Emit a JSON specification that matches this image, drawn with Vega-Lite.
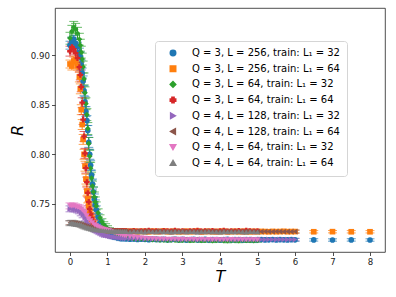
{
"$schema":"https://vega.github.io/schema/vega-lite/v6.json",
"width":330,"height":244,
"autosize":{"type":"none"},
"padding":{"left":55,"top":8,"right":11,"bottom":45},
"background":"white",
"config":{"view":{"stroke":"#222","strokeWidth":0.8},
"axis":{"grid":false,"domain":false,"labelFont":"DejaVu Sans","labelFontSize":8.6,"labelColor":"#222","tickColor":"#222","tickSize":3.5,"tickWidth":0.8,"titleFont":"DejaVu Sans","titleFontSize":16,"titleFontStyle":"italic","titleFontWeight":"normal","titleColor":"#000"},
"legend":{"labelFont":"DejaVu Sans","labelFontSize":10,"labelColor":"#000","orient":"none","legendX":100,"legendY":33,"strokeColor":"#d5d5d5","fillColor":"white","cornerRadius":3,"padding":7,"rowPadding":3.7,"symbolSize":30,"symbolOpacity":1,"symbolOffset":6,"labelOffset":14,"labelLimit":300}},
"datasets":{
"series":[
{"k":1,"label":"Q = 3, L = 256, train: L₁ = 32"},
{"k":2,"label":"Q = 3, L = 256, train: L₁ = 64"},
{"k":3,"label":"Q = 3, L = 64, train: L₁ = 32"},
{"k":4,"label":"Q = 3, L = 64, train: L₁ = 64"},
{"k":5,"label":"Q = 4, L = 128, train: L₁ = 32"},
{"k":6,"label":"Q = 4, L = 128, train: L₁ = 64"},
{"k":7,"label":"Q = 4, L = 64, train: L₁ = 32"},
{"k":8,"label":"Q = 4, L = 64, train: L₁ = 64"}],
"pts":[
{"k":1,"t":0,"r":0.910,"e":0.004},{"k":1,"t":0.05,"r":0.914,"e":0.004},{"k":1,"t":0.1,"r":0.916,"e":0.004},{"k":1,"t":0.15,"r":0.912,"e":0.004},{"k":1,"t":0.2,"r":0.909,"e":0.004},{"k":1,"t":0.25,"r":0.903,"e":0.004},{"k":1,"t":0.275,"r":0.898,"e":0.005},{"k":1,"t":0.3,"r":0.89,"e":0.005},{"k":1,"t":0.325,"r":0.882,"e":0.005},{"k":1,"t":0.35,"r":0.874,"e":0.005},{"k":1,"t":0.375,"r":0.864,"e":0.005},{"k":1,"t":0.4,"r":0.853,"e":0.005},{"k":1,"t":0.425,"r":0.843,"e":0.005},{"k":1,"t":0.45,"r":0.834,"e":0.005},{"k":1,"t":0.475,"r":0.824,"e":0.005},{"k":1,"t":0.5,"r":0.812,"e":0.005},{"k":1,"t":0.525,"r":0.8,"e":0.005},{"k":1,"t":0.55,"r":0.789,"e":0.005},{"k":1,"t":0.575,"r":0.779,"e":0.005},{"k":1,"t":0.6,"r":0.77,"e":0.005},{"k":1,"t":0.625,"r":0.762,"e":0.005},{"k":1,"t":0.65,"r":0.755,"e":0.005},{"k":1,"t":0.675,"r":0.749,"e":0.005},{"k":1,"t":0.7,"r":0.744,"e":0.004},{"k":1,"t":0.75,"r":0.737,"e":0.003},{"k":1,"t":0.8,"r":0.731,"e":0.003},{"k":1,"t":0.85,"r":0.727,"e":0.003},{"k":1,"t":0.9,"r":0.724,"e":0.002},{"k":1,"t":0.95,"r":0.722,"e":0.002},{"k":1,"t":1.0,"r":0.72,"e":0.002},{"k":1,"t":1.05,"r":0.719,"e":0.002},{"k":1,"t":1.1,"r":0.718,"e":0.002},{"k":1,"t":1.15,"r":0.717,"e":0.002},{"k":1,"t":1.2,"r":0.717,"e":0.002},{"k":1,"t":1.25,"r":0.716,"e":0.002},{"k":1,"t":1.3,"r":0.716,"e":0.002},{"k":1,"t":1.35,"r":0.715,"e":0.002},{"k":1,"t":1.4,"r":0.715,"e":0.002},{"k":1,"t":1.45,"r":0.715,"e":0.002},
{"k":1,"t":1.5,"r":0.7148,"e":0.0015},{"k":1,"t":1.6,"r":0.7144,"e":0.0015},{"k":1,"t":1.7,"r":0.7146,"e":0.0015},{"k":1,"t":1.8,"r":0.7141,"e":0.0015},{"k":1,"t":1.9,"r":0.7145,"e":0.0015},{"k":1,"t":2.0,"r":0.7143,"e":0.0015},{"k":1,"t":2.1,"r":0.7139,"e":0.0015},{"k":1,"t":2.2,"r":0.7144,"e":0.0015},{"k":1,"t":2.3,"r":0.7142,"e":0.0015},{"k":1,"t":2.4,"r":0.714,"e":0.0015},{"k":1,"t":2.5,"r":0.7143,"e":0.0015},{"k":1,"t":2.6,"r":0.7138,"e":0.0015},{"k":1,"t":2.7,"r":0.7141,"e":0.0015},{"k":1,"t":2.8,"r":0.7144,"e":0.0015},{"k":1,"t":2.9,"r":0.7139,"e":0.0015},{"k":1,"t":3.0,"r":0.7142,"e":0.0015},{"k":1,"t":3.1,"r":0.7137,"e":0.0015},{"k":1,"t":3.2,"r":0.7141,"e":0.0015},{"k":1,"t":3.3,"r":0.7143,"e":0.0015},{"k":1,"t":3.4,"r":0.7138,"e":0.0015},{"k":1,"t":3.5,"r":0.714,"e":0.0015},{"k":1,"t":3.6,"r":0.7142,"e":0.0015},{"k":1,"t":3.7,"r":0.7137,"e":0.0015},{"k":1,"t":3.8,"r":0.714,"e":0.0015},{"k":1,"t":3.9,"r":0.7141,"e":0.0015},{"k":1,"t":4.0,"r":0.7136,"e":0.0015},{"k":1,"t":4.1,"r":0.714,"e":0.0015},{"k":1,"t":4.2,"r":0.7142,"e":0.0015},{"k":1,"t":4.3,"r":0.7138,"e":0.0015},{"k":1,"t":4.4,"r":0.7139,"e":0.0015},{"k":1,"t":4.5,"r":0.7141,"e":0.0015},{"k":1,"t":4.6,"r":0.7137,"e":0.0015},{"k":1,"t":4.7,"r":0.7139,"e":0.0015},{"k":1,"t":4.8,"r":0.714,"e":0.0015},{"k":1,"t":4.9,"r":0.7136,"e":0.0015},{"k":1,"t":5.0,"r":0.7139,"e":0.0015},{"k":1,"t":5.1,"r":0.7141,"e":0.0015},{"k":1,"t":5.2,"r":0.7137,"e":0.0015},{"k":1,"t":5.3,"r":0.7138,"e":0.0015},{"k":1,"t":5.4,"r":0.714,"e":0.0015},{"k":1,"t":5.5,"r":0.7136,"e":0.0015},{"k":1,"t":5.6,"r":0.7139,"e":0.0015},{"k":1,"t":5.7,"r":0.7138,"e":0.0015},{"k":1,"t":5.8,"r":0.7137,"e":0.0015},{"k":1,"t":5.9,"r":0.7139,"e":0.0015},{"k":1,"t":6.0,"r":0.7138,"e":0.0015},{"k":1,"t":6.5,"r":0.7137,"e":0.0012},{"k":1,"t":7.0,"r":0.7136,"e":0.0012},{"k":1,"t":7.5,"r":0.7137,"e":0.0012},{"k":1,"t":8.0,"r":0.7136,"e":0.0012},
{"k":2,"t":0,"r":0.891,"e":0.004},{"k":2,"t":0.05,"r":0.889,"e":0.004},{"k":2,"t":0.1,"r":0.894,"e":0.004},{"k":2,"t":0.15,"r":0.895,"e":0.004},{"k":2,"t":0.2,"r":0.889,"e":0.004},{"k":2,"t":0.25,"r":0.878,"e":0.005},{"k":2,"t":0.275,"r":0.866,"e":0.005},{"k":2,"t":0.3,"r":0.845,"e":0.005},{"k":2,"t":0.325,"r":0.83,"e":0.005},{"k":2,"t":0.35,"r":0.815,"e":0.005},{"k":2,"t":0.375,"r":0.8,"e":0.005},{"k":2,"t":0.4,"r":0.788,"e":0.005},{"k":2,"t":0.425,"r":0.775,"e":0.005},{"k":2,"t":0.45,"r":0.763,"e":0.005},{"k":2,"t":0.475,"r":0.755,"e":0.004},{"k":2,"t":0.5,"r":0.748,"e":0.004},{"k":2,"t":0.525,"r":0.742,"e":0.004},{"k":2,"t":0.55,"r":0.738,"e":0.003},{"k":2,"t":0.575,"r":0.735,"e":0.003},{"k":2,"t":0.6,"r":0.732,"e":0.003},{"k":2,"t":0.625,"r":0.73,"e":0.003},{"k":2,"t":0.65,"r":0.728,"e":0.002},{"k":2,"t":0.675,"r":0.727,"e":0.002},{"k":2,"t":0.7,"r":0.726,"e":0.002},{"k":2,"t":0.75,"r":0.725,"e":0.002},{"k":2,"t":0.8,"r":0.724,"e":0.002},{"k":2,"t":0.85,"r":0.7235,"e":0.002},{"k":2,"t":0.9,"r":0.723,"e":0.002},{"k":2,"t":0.95,"r":0.7228,"e":0.002},{"k":2,"t":1.0,"r":0.7227,"e":0.0015},{"k":2,"t":1.05,"r":0.7226,"e":0.0015},{"k":2,"t":1.1,"r":0.7228,"e":0.0015},{"k":2,"t":1.15,"r":0.7225,"e":0.0015},{"k":2,"t":1.2,"r":0.7226,"e":0.0015},{"k":2,"t":1.25,"r":0.7224,"e":0.0015},{"k":2,"t":1.3,"r":0.7226,"e":0.0015},{"k":2,"t":1.35,"r":0.7225,"e":0.0015},{"k":2,"t":1.4,"r":0.7223,"e":0.0015},{"k":2,"t":1.45,"r":0.7225,"e":0.0015},
{"k":2,"t":1.5,"r":0.7224,"e":0.0015},{"k":2,"t":1.6,"r":0.7221,"e":0.0015},{"k":2,"t":1.7,"r":0.7225,"e":0.0015},{"k":2,"t":1.8,"r":0.722,"e":0.0015},{"k":2,"t":1.9,"r":0.7223,"e":0.0015},{"k":2,"t":2.0,"r":0.7222,"e":0.0015},{"k":2,"t":2.1,"r":0.7219,"e":0.0015},{"k":2,"t":2.2,"r":0.7224,"e":0.0015},{"k":2,"t":2.3,"r":0.7221,"e":0.0015},{"k":2,"t":2.4,"r":0.7222,"e":0.0015},{"k":2,"t":2.5,"r":0.7226,"e":0.0015},{"k":2,"t":2.6,"r":0.722,"e":0.0015},{"k":2,"t":2.7,"r":0.7222,"e":0.0015},{"k":2,"t":2.8,"r":0.7223,"e":0.0015},{"k":2,"t":2.9,"r":0.7219,"e":0.0015},{"k":2,"t":3.0,"r":0.7221,"e":0.0015},{"k":2,"t":3.1,"r":0.7224,"e":0.0015},{"k":2,"t":3.2,"r":0.722,"e":0.0015},{"k":2,"t":3.3,"r":0.7222,"e":0.0015},{"k":2,"t":3.4,"r":0.7225,"e":0.0015},{"k":2,"t":3.5,"r":0.7219,"e":0.0015},{"k":2,"t":3.6,"r":0.7221,"e":0.0015},{"k":2,"t":3.7,"r":0.7223,"e":0.0015},{"k":2,"t":3.8,"r":0.722,"e":0.0015},{"k":2,"t":3.9,"r":0.7222,"e":0.0015},{"k":2,"t":4.0,"r":0.7221,"e":0.0015},{"k":2,"t":4.1,"r":0.7224,"e":0.0015},{"k":2,"t":4.2,"r":0.7219,"e":0.0015},{"k":2,"t":4.3,"r":0.7221,"e":0.0015},{"k":2,"t":4.4,"r":0.7223,"e":0.0015},{"k":2,"t":4.5,"r":0.722,"e":0.0015},{"k":2,"t":4.6,"r":0.7222,"e":0.0015},{"k":2,"t":4.7,"r":0.7221,"e":0.0015},{"k":2,"t":4.8,"r":0.7219,"e":0.0015},{"k":2,"t":4.9,"r":0.7223,"e":0.0015},{"k":2,"t":5.0,"r":0.722,"e":0.0015},{"k":2,"t":5.1,"r":0.7222,"e":0.0015},{"k":2,"t":5.2,"r":0.7221,"e":0.0015},{"k":2,"t":5.3,"r":0.7219,"e":0.0015},{"k":2,"t":5.4,"r":0.7222,"e":0.0015},{"k":2,"t":5.5,"r":0.722,"e":0.0015},{"k":2,"t":5.6,"r":0.7221,"e":0.0015},{"k":2,"t":5.7,"r":0.7223,"e":0.0015},{"k":2,"t":5.8,"r":0.722,"e":0.0015},{"k":2,"t":5.9,"r":0.7221,"e":0.0015},{"k":2,"t":6.0,"r":0.7221,"e":0.0015},{"k":2,"t":6.5,"r":0.7219,"e":0.0012},{"k":2,"t":7.0,"r":0.722,"e":0.0012},{"k":2,"t":7.5,"r":0.7219,"e":0.0012},{"k":2,"t":8.0,"r":0.7219,"e":0.0012},
{"k":3,"t":0,"r":0.917,"e":0.006},{"k":3,"t":0.05,"r":0.924,"e":0.006},{"k":3,"t":0.1,"r":0.928,"e":0.006},{"k":3,"t":0.15,"r":0.926,"e":0.006},{"k":3,"t":0.2,"r":0.922,"e":0.006},{"k":3,"t":0.25,"r":0.916,"e":0.006},{"k":3,"t":0.275,"r":0.91,"e":0.006},{"k":3,"t":0.3,"r":0.903,"e":0.006},{"k":3,"t":0.325,"r":0.896,"e":0.006},{"k":3,"t":0.35,"r":0.888,"e":0.006},{"k":3,"t":0.375,"r":0.876,"e":0.006},{"k":3,"t":0.4,"r":0.862,"e":0.006},{"k":3,"t":0.425,"r":0.851,"e":0.006},{"k":3,"t":0.45,"r":0.84,"e":0.006},{"k":3,"t":0.475,"r":0.826,"e":0.006},{"k":3,"t":0.5,"r":0.811,"e":0.006},{"k":3,"t":0.525,"r":0.798,"e":0.006},{"k":3,"t":0.55,"r":0.786,"e":0.006},{"k":3,"t":0.575,"r":0.776,"e":0.006},{"k":3,"t":0.6,"r":0.768,"e":0.005},{"k":3,"t":0.625,"r":0.762,"e":0.005},{"k":3,"t":0.65,"r":0.757,"e":0.005},{"k":3,"t":0.675,"r":0.752,"e":0.005},{"k":3,"t":0.7,"r":0.748,"e":0.004},{"k":3,"t":0.75,"r":0.741,"e":0.004},{"k":3,"t":0.8,"r":0.736,"e":0.003},{"k":3,"t":0.85,"r":0.732,"e":0.003},{"k":3,"t":0.9,"r":0.729,"e":0.003},{"k":3,"t":0.95,"r":0.727,"e":0.003},{"k":3,"t":1.0,"r":0.725,"e":0.003},{"k":3,"t":1.05,"r":0.724,"e":0.002},{"k":3,"t":1.1,"r":0.723,"e":0.002},{"k":3,"t":1.15,"r":0.722,"e":0.002},{"k":3,"t":1.2,"r":0.721,"e":0.002},{"k":3,"t":1.25,"r":0.72,"e":0.002},{"k":3,"t":1.3,"r":0.719,"e":0.002},{"k":3,"t":1.35,"r":0.718,"e":0.002},{"k":3,"t":1.4,"r":0.717,"e":0.002},{"k":3,"t":1.45,"r":0.717,"e":0.002},
{"k":3,"t":1.5,"r":0.716,"e":0.002},{"k":3,"t":1.6,"r":0.7155,"e":0.002},{"k":3,"t":1.7,"r":0.7152,"e":0.002},{"k":3,"t":1.8,"r":0.7148,"e":0.002},{"k":3,"t":1.9,"r":0.715,"e":0.002},{"k":3,"t":2.0,"r":0.7144,"e":0.002},{"k":3,"t":2.1,"r":0.7146,"e":0.002},{"k":3,"t":2.2,"r":0.714,"e":0.002},{"k":3,"t":2.3,"r":0.7143,"e":0.002},{"k":3,"t":2.4,"r":0.7138,"e":0.002},{"k":3,"t":2.5,"r":0.7141,"e":0.002},{"k":3,"t":2.6,"r":0.7135,"e":0.002},{"k":3,"t":2.7,"r":0.7139,"e":0.002},{"k":3,"t":2.8,"r":0.7142,"e":0.002},{"k":3,"t":2.9,"r":0.7133,"e":0.002},{"k":3,"t":3.0,"r":0.7137,"e":0.002},{"k":3,"t":3.1,"r":0.714,"e":0.002},{"k":3,"t":3.2,"r":0.7132,"e":0.002},{"k":3,"t":3.3,"r":0.7136,"e":0.002},{"k":3,"t":3.4,"r":0.7139,"e":0.002},{"k":3,"t":3.5,"r":0.7131,"e":0.002},{"k":3,"t":3.6,"r":0.7135,"e":0.002},{"k":3,"t":3.7,"r":0.7138,"e":0.002},{"k":3,"t":3.8,"r":0.713,"e":0.002},{"k":3,"t":3.9,"r":0.7134,"e":0.002},{"k":3,"t":4.0,"r":0.7137,"e":0.002},{"k":3,"t":4.1,"r":0.7132,"e":0.002},{"k":3,"t":4.2,"r":0.7128,"e":0.002},{"k":3,"t":4.3,"r":0.7135,"e":0.002},{"k":3,"t":4.4,"r":0.7133,"e":0.002},{"k":3,"t":4.5,"r":0.7129,"e":0.002},{"k":3,"t":4.6,"r":0.7136,"e":0.002},{"k":3,"t":4.7,"r":0.7131,"e":0.002},{"k":3,"t":4.8,"r":0.7134,"e":0.002},{"k":3,"t":4.9,"r":0.713,"e":0.002},{"k":3,"t":5.0,"r":0.7133,"e":0.002},
{"k":4,"t":0,"r":0.904,"e":0.005},{"k":4,"t":0.05,"r":0.908,"e":0.005},{"k":4,"t":0.1,"r":0.906,"e":0.005},{"k":4,"t":0.15,"r":0.902,"e":0.005},{"k":4,"t":0.2,"r":0.897,"e":0.005},{"k":4,"t":0.25,"r":0.888,"e":0.005},{"k":4,"t":0.275,"r":0.88,"e":0.005},{"k":4,"t":0.3,"r":0.868,"e":0.005},{"k":4,"t":0.325,"r":0.852,"e":0.005},{"k":4,"t":0.35,"r":0.835,"e":0.005},{"k":4,"t":0.375,"r":0.818,"e":0.005},{"k":4,"t":0.4,"r":0.801,"e":0.005},{"k":4,"t":0.425,"r":0.786,"e":0.005},{"k":4,"t":0.45,"r":0.772,"e":0.005},{"k":4,"t":0.475,"r":0.761,"e":0.004},{"k":4,"t":0.5,"r":0.752,"e":0.004},{"k":4,"t":0.525,"r":0.745,"e":0.004},{"k":4,"t":0.55,"r":0.74,"e":0.003},{"k":4,"t":0.575,"r":0.736,"e":0.003},{"k":4,"t":0.6,"r":0.733,"e":0.003},{"k":4,"t":0.625,"r":0.731,"e":0.003},{"k":4,"t":0.65,"r":0.729,"e":0.002},{"k":4,"t":0.675,"r":0.728,"e":0.002},{"k":4,"t":0.7,"r":0.727,"e":0.002},{"k":4,"t":0.75,"r":0.7255,"e":0.002},{"k":4,"t":0.8,"r":0.7245,"e":0.002},{"k":4,"t":0.85,"r":0.724,"e":0.002},{"k":4,"t":0.9,"r":0.7235,"e":0.002},{"k":4,"t":0.95,"r":0.723,"e":0.002},{"k":4,"t":1.0,"r":0.7228,"e":0.0015},{"k":4,"t":1.05,"r":0.7227,"e":0.0015},{"k":4,"t":1.1,"r":0.7229,"e":0.0015},{"k":4,"t":1.15,"r":0.7226,"e":0.0015},{"k":4,"t":1.2,"r":0.7228,"e":0.0015},{"k":4,"t":1.25,"r":0.7225,"e":0.0015},{"k":4,"t":1.3,"r":0.7227,"e":0.0015},{"k":4,"t":1.35,"r":0.7226,"e":0.0015},{"k":4,"t":1.4,"r":0.7228,"e":0.0015},{"k":4,"t":1.45,"r":0.7225,"e":0.0015},
{"k":4,"t":1.5,"r":0.7226,"e":0.0015},{"k":4,"t":1.6,"r":0.7224,"e":0.0015},{"k":4,"t":1.7,"r":0.7229,"e":0.0015},{"k":4,"t":1.8,"r":0.7223,"e":0.0015},{"k":4,"t":1.9,"r":0.7227,"e":0.0015},{"k":4,"t":2.0,"r":0.7225,"e":0.0015},{"k":4,"t":2.1,"r":0.7231,"e":0.0015},{"k":4,"t":2.2,"r":0.7224,"e":0.0015},{"k":4,"t":2.3,"r":0.7226,"e":0.0015},{"k":4,"t":2.4,"r":0.7222,"e":0.0015},{"k":4,"t":2.5,"r":0.7228,"e":0.0015},{"k":4,"t":2.6,"r":0.7225,"e":0.0015},{"k":4,"t":2.7,"r":0.7223,"e":0.0015},{"k":4,"t":2.8,"r":0.723,"e":0.0015},{"k":4,"t":2.9,"r":0.7224,"e":0.0015},{"k":4,"t":3.0,"r":0.7226,"e":0.0015},{"k":4,"t":3.1,"r":0.7222,"e":0.0015},{"k":4,"t":3.2,"r":0.7227,"e":0.0015},{"k":4,"t":3.3,"r":0.7225,"e":0.0015},{"k":4,"t":3.4,"r":0.7232,"e":0.0015},{"k":4,"t":3.5,"r":0.7223,"e":0.0015},{"k":4,"t":3.6,"r":0.7226,"e":0.0015},{"k":4,"t":3.7,"r":0.7224,"e":0.0015},{"k":4,"t":3.8,"r":0.7228,"e":0.0015},{"k":4,"t":3.9,"r":0.7222,"e":0.0015},{"k":4,"t":4.0,"r":0.7225,"e":0.0015},{"k":4,"t":4.1,"r":0.723,"e":0.0015},{"k":4,"t":4.2,"r":0.7223,"e":0.0015},{"k":4,"t":4.3,"r":0.7226,"e":0.0015},{"k":4,"t":4.4,"r":0.7224,"e":0.0015},{"k":4,"t":4.5,"r":0.7228,"e":0.0015},{"k":4,"t":4.6,"r":0.7222,"e":0.0015},{"k":4,"t":4.7,"r":0.7231,"e":0.0015},{"k":4,"t":4.8,"r":0.7225,"e":0.0015},{"k":4,"t":4.9,"r":0.7223,"e":0.0015},{"k":4,"t":5.0,"r":0.7227,"e":0.0015},
{"k":5,"t":0,"r":0.745,"e":0.003},{"k":5,"t":0.05,"r":0.746,"e":0.003},{"k":5,"t":0.1,"r":0.745,"e":0.003},{"k":5,"t":0.15,"r":0.745,"e":0.003},{"k":5,"t":0.2,"r":0.744,"e":0.003},{"k":5,"t":0.25,"r":0.743,"e":0.003},{"k":5,"t":0.3,"r":0.741,"e":0.003},{"k":5,"t":0.35,"r":0.739,"e":0.003},{"k":5,"t":0.4,"r":0.736,"e":0.003},{"k":5,"t":0.45,"r":0.733,"e":0.003},{"k":5,"t":0.5,"r":0.73,"e":0.002},{"k":5,"t":0.55,"r":0.728,"e":0.002},{"k":5,"t":0.6,"r":0.726,"e":0.002},{"k":5,"t":0.65,"r":0.724,"e":0.002},{"k":5,"t":0.7,"r":0.723,"e":0.002},{"k":5,"t":0.75,"r":0.722,"e":0.002},{"k":5,"t":0.8,"r":0.721,"e":0.002},{"k":5,"t":0.85,"r":0.72,"e":0.002},{"k":5,"t":0.9,"r":0.719,"e":0.002},{"k":5,"t":0.95,"r":0.7185,"e":0.002},{"k":5,"t":1.0,"r":0.718,"e":0.0015},{"k":5,"t":1.05,"r":0.7175,"e":0.0015},{"k":5,"t":1.1,"r":0.717,"e":0.0015},{"k":5,"t":1.15,"r":0.7167,"e":0.0015},{"k":5,"t":1.2,"r":0.7164,"e":0.0015},{"k":5,"t":1.25,"r":0.7161,"e":0.0015},{"k":5,"t":1.3,"r":0.7159,"e":0.0015},{"k":5,"t":1.35,"r":0.7157,"e":0.0015},{"k":5,"t":1.4,"r":0.7155,"e":0.0015},{"k":5,"t":1.45,"r":0.7154,"e":0.0015},
{"k":5,"t":1.5,"r":0.7152,"e":0.0012},{"k":5,"t":1.6,"r":0.715,"e":0.0012},{"k":5,"t":1.7,"r":0.7151,"e":0.0012},{"k":5,"t":1.8,"r":0.7148,"e":0.0012},{"k":5,"t":1.9,"r":0.715,"e":0.0012},{"k":5,"t":2.0,"r":0.7147,"e":0.0012},{"k":5,"t":2.1,"r":0.7149,"e":0.0012},{"k":5,"t":2.2,"r":0.7146,"e":0.0012},{"k":5,"t":2.3,"r":0.7148,"e":0.0012},{"k":5,"t":2.4,"r":0.7145,"e":0.0012},{"k":5,"t":2.5,"r":0.7147,"e":0.0012},{"k":5,"t":2.6,"r":0.7146,"e":0.0012},{"k":5,"t":2.7,"r":0.7144,"e":0.0012},{"k":5,"t":2.8,"r":0.7147,"e":0.0012},{"k":5,"t":2.9,"r":0.7145,"e":0.0012},{"k":5,"t":3.0,"r":0.7143,"e":0.0012},{"k":5,"t":3.1,"r":0.7146,"e":0.0012},{"k":5,"t":3.2,"r":0.7144,"e":0.0012},{"k":5,"t":3.3,"r":0.7145,"e":0.0012},{"k":5,"t":3.4,"r":0.7142,"e":0.0012},{"k":5,"t":3.5,"r":0.7145,"e":0.0012},{"k":5,"t":3.6,"r":0.7143,"e":0.0012},{"k":5,"t":3.7,"r":0.7144,"e":0.0012},{"k":5,"t":3.8,"r":0.7142,"e":0.0012},{"k":5,"t":3.9,"r":0.7144,"e":0.0012},{"k":5,"t":4.0,"r":0.7143,"e":0.0012},{"k":5,"t":4.1,"r":0.7141,"e":0.0012},{"k":5,"t":4.2,"r":0.7144,"e":0.0012},{"k":5,"t":4.3,"r":0.7142,"e":0.0012},{"k":5,"t":4.4,"r":0.7143,"e":0.0012},{"k":5,"t":4.5,"r":0.7141,"e":0.0012},{"k":5,"t":4.6,"r":0.7143,"e":0.0012},{"k":5,"t":4.7,"r":0.7142,"e":0.0012},{"k":5,"t":4.8,"r":0.714,"e":0.0012},{"k":5,"t":4.9,"r":0.7143,"e":0.0012},{"k":5,"t":5.0,"r":0.7141,"e":0.0012},{"k":5,"t":5.1,"r":0.7142,"e":0.0012},{"k":5,"t":5.2,"r":0.714,"e":0.0012},{"k":5,"t":5.3,"r":0.7142,"e":0.0012},{"k":5,"t":5.4,"r":0.7141,"e":0.0012},{"k":5,"t":5.5,"r":0.714,"e":0.0012},{"k":5,"t":5.6,"r":0.7142,"e":0.0012},{"k":5,"t":5.7,"r":0.7141,"e":0.0012},{"k":5,"t":5.8,"r":0.714,"e":0.0012},{"k":5,"t":5.9,"r":0.7141,"e":0.0012},{"k":5,"t":6.0,"r":0.714,"e":0.0012},
{"k":6,"t":0,"r":0.731,"e":0.002},{"k":6,"t":0.05,"r":0.731,"e":0.002},{"k":6,"t":0.1,"r":0.7305,"e":0.002},{"k":6,"t":0.15,"r":0.7305,"e":0.002},{"k":6,"t":0.2,"r":0.73,"e":0.002},{"k":6,"t":0.25,"r":0.7295,"e":0.002},{"k":6,"t":0.3,"r":0.729,"e":0.002},{"k":6,"t":0.35,"r":0.7285,"e":0.002},{"k":6,"t":0.4,"r":0.728,"e":0.002},{"k":6,"t":0.45,"r":0.7275,"e":0.002},{"k":6,"t":0.5,"r":0.727,"e":0.002},{"k":6,"t":0.55,"r":0.7265,"e":0.002},{"k":6,"t":0.6,"r":0.726,"e":0.002},{"k":6,"t":0.65,"r":0.7255,"e":0.002},{"k":6,"t":0.7,"r":0.725,"e":0.002},{"k":6,"t":0.75,"r":0.7248,"e":0.002},{"k":6,"t":0.8,"r":0.7245,"e":0.0015},{"k":6,"t":0.85,"r":0.7242,"e":0.0015},{"k":6,"t":0.9,"r":0.724,"e":0.0015},{"k":6,"t":0.95,"r":0.7238,"e":0.0015},{"k":6,"t":1.0,"r":0.7236,"e":0.0015},{"k":6,"t":1.05,"r":0.7234,"e":0.0015},{"k":6,"t":1.1,"r":0.7233,"e":0.0015},{"k":6,"t":1.15,"r":0.7231,"e":0.0015},{"k":6,"t":1.2,"r":0.723,"e":0.0015},{"k":6,"t":1.25,"r":0.7229,"e":0.0015},{"k":6,"t":1.3,"r":0.7229,"e":0.0015},{"k":6,"t":1.35,"r":0.7228,"e":0.0015},{"k":6,"t":1.4,"r":0.7227,"e":0.0015},{"k":6,"t":1.45,"r":0.7227,"e":0.0015},
{"k":6,"t":1.5,"r":0.7226,"e":0.0015},{"k":6,"t":1.6,"r":0.7225,"e":0.0015},{"k":6,"t":1.7,"r":0.7224,"e":0.0015},{"k":6,"t":1.8,"r":0.7226,"e":0.0015},{"k":6,"t":1.9,"r":0.7223,"e":0.0015},{"k":6,"t":2.0,"r":0.7225,"e":0.0015},{"k":6,"t":2.1,"r":0.7224,"e":0.0015},{"k":6,"t":2.2,"r":0.7222,"e":0.0015},{"k":6,"t":2.3,"r":0.7225,"e":0.0015},{"k":6,"t":2.4,"r":0.7223,"e":0.0015},{"k":6,"t":2.5,"r":0.7224,"e":0.0015},{"k":6,"t":2.6,"r":0.7222,"e":0.0015},{"k":6,"t":2.7,"r":0.7224,"e":0.0015},{"k":6,"t":2.8,"r":0.7223,"e":0.0015},{"k":6,"t":2.9,"r":0.7221,"e":0.0015},{"k":6,"t":3.0,"r":0.7224,"e":0.0015},{"k":6,"t":3.1,"r":0.7222,"e":0.0015},{"k":6,"t":3.2,"r":0.7223,"e":0.0015},{"k":6,"t":3.3,"r":0.7221,"e":0.0015},{"k":6,"t":3.4,"r":0.7223,"e":0.0015},{"k":6,"t":3.5,"r":0.7222,"e":0.0015},{"k":6,"t":3.6,"r":0.7224,"e":0.0015},{"k":6,"t":3.7,"r":0.7221,"e":0.0015},{"k":6,"t":3.8,"r":0.7223,"e":0.0015},{"k":6,"t":3.9,"r":0.7222,"e":0.0015},{"k":6,"t":4.0,"r":0.722,"e":0.0015},{"k":6,"t":4.1,"r":0.7223,"e":0.0015},{"k":6,"t":4.2,"r":0.7221,"e":0.0015},{"k":6,"t":4.3,"r":0.7222,"e":0.0015},{"k":6,"t":4.4,"r":0.722,"e":0.0015},{"k":6,"t":4.5,"r":0.7222,"e":0.0015},{"k":6,"t":4.6,"r":0.7221,"e":0.0015},{"k":6,"t":4.7,"r":0.7223,"e":0.0015},{"k":6,"t":4.8,"r":0.722,"e":0.0015},{"k":6,"t":4.9,"r":0.7222,"e":0.0015},{"k":6,"t":5.0,"r":0.7221,"e":0.0015},{"k":6,"t":5.1,"r":0.722,"e":0.0015},{"k":6,"t":5.2,"r":0.7222,"e":0.0015},{"k":6,"t":5.3,"r":0.7221,"e":0.0015},{"k":6,"t":5.4,"r":0.722,"e":0.0015},{"k":6,"t":5.5,"r":0.7222,"e":0.0015},{"k":6,"t":5.6,"r":0.7221,"e":0.0015},{"k":6,"t":5.7,"r":0.722,"e":0.0015},{"k":6,"t":5.8,"r":0.7221,"e":0.0015},{"k":6,"t":5.9,"r":0.722,"e":0.0015},{"k":6,"t":6.0,"r":0.7221,"e":0.0015},
{"k":7,"t":0,"r":0.748,"e":0.003},{"k":7,"t":0.05,"r":0.7475,"e":0.003},{"k":7,"t":0.1,"r":0.748,"e":0.003},{"k":7,"t":0.15,"r":0.747,"e":0.003},{"k":7,"t":0.2,"r":0.7465,"e":0.003},{"k":7,"t":0.25,"r":0.746,"e":0.003},{"k":7,"t":0.3,"r":0.745,"e":0.003},{"k":7,"t":0.35,"r":0.743,"e":0.003},{"k":7,"t":0.4,"r":0.741,"e":0.003},{"k":7,"t":0.45,"r":0.738,"e":0.003},{"k":7,"t":0.5,"r":0.735,"e":0.003},{"k":7,"t":0.55,"r":0.733,"e":0.0025},{"k":7,"t":0.6,"r":0.731,"e":0.0025},{"k":7,"t":0.65,"r":0.729,"e":0.0025},{"k":7,"t":0.7,"r":0.728,"e":0.0025},{"k":7,"t":0.75,"r":0.727,"e":0.002},{"k":7,"t":0.8,"r":0.726,"e":0.002},{"k":7,"t":0.85,"r":0.725,"e":0.002},{"k":7,"t":0.9,"r":0.7245,"e":0.002},{"k":7,"t":0.95,"r":0.724,"e":0.002},{"k":7,"t":1.0,"r":0.7235,"e":0.002},{"k":7,"t":1.05,"r":0.723,"e":0.002},{"k":7,"t":1.1,"r":0.722,"e":0.002},{"k":7,"t":1.15,"r":0.7212,"e":0.002},{"k":7,"t":1.2,"r":0.7205,"e":0.002},{"k":7,"t":1.25,"r":0.72,"e":0.002},{"k":7,"t":1.3,"r":0.7195,"e":0.002},{"k":7,"t":1.35,"r":0.719,"e":0.002},{"k":7,"t":1.4,"r":0.7185,"e":0.002},{"k":7,"t":1.45,"r":0.718,"e":0.002},
{"k":7,"t":1.5,"r":0.7178,"e":0.0015},{"k":7,"t":1.6,"r":0.7172,"e":0.0015},{"k":7,"t":1.7,"r":0.7166,"e":0.0015},{"k":7,"t":1.8,"r":0.7161,"e":0.0015},{"k":7,"t":1.9,"r":0.7157,"e":0.0015},{"k":7,"t":2.0,"r":0.7153,"e":0.0015},{"k":7,"t":2.1,"r":0.715,"e":0.0015},{"k":7,"t":2.2,"r":0.7148,"e":0.0015},{"k":7,"t":2.3,"r":0.7146,"e":0.0015},{"k":7,"t":2.4,"r":0.7145,"e":0.0015},{"k":7,"t":2.5,"r":0.7143,"e":0.0015},{"k":7,"t":2.6,"r":0.7145,"e":0.0015},{"k":7,"t":2.7,"r":0.7142,"e":0.0015},{"k":7,"t":2.8,"r":0.7144,"e":0.0015},{"k":7,"t":2.9,"r":0.7141,"e":0.0015},{"k":7,"t":3.0,"r":0.7143,"e":0.0015},{"k":7,"t":3.1,"r":0.714,"e":0.0015},{"k":7,"t":3.2,"r":0.7142,"e":0.0015},{"k":7,"t":3.3,"r":0.7141,"e":0.0015},{"k":7,"t":3.4,"r":0.7139,"e":0.0015},{"k":7,"t":3.5,"r":0.7142,"e":0.0015},{"k":7,"t":3.6,"r":0.714,"e":0.0015},{"k":7,"t":3.7,"r":0.7141,"e":0.0015},{"k":7,"t":3.8,"r":0.7139,"e":0.0015},{"k":7,"t":3.9,"r":0.7141,"e":0.0015},{"k":7,"t":4.0,"r":0.7138,"e":0.0015},{"k":7,"t":4.1,"r":0.714,"e":0.0015},{"k":7,"t":4.2,"r":0.7139,"e":0.0015},{"k":7,"t":4.3,"r":0.7141,"e":0.0015},{"k":7,"t":4.4,"r":0.7138,"e":0.0015},{"k":7,"t":4.5,"r":0.714,"e":0.0015},{"k":7,"t":4.6,"r":0.7139,"e":0.0015},{"k":7,"t":4.7,"r":0.7138,"e":0.0015},{"k":7,"t":4.8,"r":0.714,"e":0.0015},{"k":7,"t":4.9,"r":0.7139,"e":0.0015},{"k":7,"t":5.0,"r":0.7138,"e":0.0015},
{"k":8,"t":0,"r":0.7305,"e":0.0025},{"k":8,"t":0.05,"r":0.731,"e":0.0025},{"k":8,"t":0.1,"r":0.7305,"e":0.0025},{"k":8,"t":0.15,"r":0.73,"e":0.0025},{"k":8,"t":0.2,"r":0.7298,"e":0.0025},{"k":8,"t":0.25,"r":0.7295,"e":0.0025},{"k":8,"t":0.3,"r":0.729,"e":0.0025},{"k":8,"t":0.35,"r":0.728,"e":0.0025},{"k":8,"t":0.4,"r":0.7272,"e":0.0025},{"k":8,"t":0.45,"r":0.7265,"e":0.0025},{"k":8,"t":0.5,"r":0.726,"e":0.0025},{"k":8,"t":0.55,"r":0.7255,"e":0.0025},{"k":8,"t":0.6,"r":0.725,"e":0.0025},{"k":8,"t":0.65,"r":0.7245,"e":0.0025},{"k":8,"t":0.7,"r":0.724,"e":0.0025},{"k":8,"t":0.75,"r":0.7238,"e":0.002},{"k":8,"t":0.8,"r":0.7235,"e":0.002},{"k":8,"t":0.85,"r":0.7232,"e":0.002},{"k":8,"t":0.9,"r":0.723,"e":0.002},{"k":8,"t":0.95,"r":0.7228,"e":0.002},{"k":8,"t":1.0,"r":0.7227,"e":0.002},{"k":8,"t":1.05,"r":0.7224,"e":0.002},{"k":8,"t":1.1,"r":0.7226,"e":0.002},{"k":8,"t":1.15,"r":0.7223,"e":0.002},{"k":8,"t":1.2,"r":0.7225,"e":0.002},{"k":8,"t":1.25,"r":0.7222,"e":0.002},{"k":8,"t":1.3,"r":0.7224,"e":0.002},{"k":8,"t":1.35,"r":0.7221,"e":0.002},{"k":8,"t":1.4,"r":0.7223,"e":0.002},{"k":8,"t":1.45,"r":0.7222,"e":0.002},
{"k":8,"t":1.5,"r":0.7222,"e":0.002},{"k":8,"t":1.6,"r":0.7218,"e":0.002},{"k":8,"t":1.7,"r":0.7224,"e":0.002},{"k":8,"t":1.8,"r":0.7219,"e":0.002},{"k":8,"t":1.9,"r":0.7221,"e":0.002},{"k":8,"t":2.0,"r":0.7217,"e":0.002},{"k":8,"t":2.1,"r":0.7223,"e":0.002},{"k":8,"t":2.2,"r":0.722,"e":0.002},{"k":8,"t":2.3,"r":0.7218,"e":0.002},{"k":8,"t":2.4,"r":0.7224,"e":0.002},{"k":8,"t":2.5,"r":0.7219,"e":0.002},{"k":8,"t":2.6,"r":0.7221,"e":0.002},{"k":8,"t":2.7,"r":0.7216,"e":0.002},{"k":8,"t":2.8,"r":0.7222,"e":0.002},{"k":8,"t":2.9,"r":0.7219,"e":0.002},{"k":8,"t":3.0,"r":0.7223,"e":0.002},{"k":8,"t":3.1,"r":0.7218,"e":0.002},{"k":8,"t":3.2,"r":0.722,"e":0.002},{"k":8,"t":3.3,"r":0.7222,"e":0.002},{"k":8,"t":3.4,"r":0.7217,"e":0.002},{"k":8,"t":3.5,"r":0.7221,"e":0.002},{"k":8,"t":3.6,"r":0.7219,"e":0.002},{"k":8,"t":3.7,"r":0.7224,"e":0.002},{"k":8,"t":3.8,"r":0.7218,"e":0.002},{"k":8,"t":3.9,"r":0.722,"e":0.002},{"k":8,"t":4.0,"r":0.7216,"e":0.002},{"k":8,"t":4.1,"r":0.7222,"e":0.002},{"k":8,"t":4.2,"r":0.7219,"e":0.002},{"k":8,"t":4.3,"r":0.7221,"e":0.002},{"k":8,"t":4.4,"r":0.7218,"e":0.002},{"k":8,"t":4.5,"r":0.7223,"e":0.002},{"k":8,"t":4.6,"r":0.7219,"e":0.002},{"k":8,"t":4.7,"r":0.7217,"e":0.002},{"k":8,"t":4.8,"r":0.7221,"e":0.002},{"k":8,"t":4.9,"r":0.722,"e":0.002},{"k":8,"t":5.0,"r":0.7218,"e":0.002}
]},
"data":{"name":"pts"},
"transform":[{"lookup":"k","from":{"data":{"name":"series"},"key":"k","fields":["label"]}}],
"encoding":{
"x":{"field":"t","type":"quantitative","scale":{"domain":[-0.4,8.4],"nice":false,"zero":false},"axis":{"values":[0,1,2,3,4,5,6,7,8],"format":"d","title":"T","labelPadding":2,"titlePadding":2}},
"y":{"field":"r","type":"quantitative","scale":{"domain":[0.7015,0.9475],"nice":false,"zero":false},"axis":{"values":[0.75,0.8,0.85,0.9],"format":".2f","title":"R","labelPadding":2,"titlePadding":5}},
"color":{"field":"label","type":"nominal","title":null,"scale":{"domain":["Q = 3, L = 256, train: L₁ = 32","Q = 3, L = 256, train: L₁ = 64","Q = 3, L = 64, train: L₁ = 32","Q = 3, L = 64, train: L₁ = 64","Q = 4, L = 128, train: L₁ = 32","Q = 4, L = 128, train: L₁ = 64","Q = 4, L = 64, train: L₁ = 32","Q = 4, L = 64, train: L₁ = 64"],"range":["#1f77b4","#ff7f0e","#2ca02c","#d62728","#9467bd","#8c564b","#e377c2","#7f7f7f"]}}
},
"layer":[
{"mark":{"type":"errorbar","ticks":{"size":9},"thickness":1},
 "encoding":{"yError":{"field":"e"}}},
{"mark":{"type":"point","filled":true,"size":32,"opacity":1,"strokeWidth":0},
 "encoding":{"shape":{"field":"label","type":"nominal","title":null,"scale":{"domain":["Q = 3, L = 256, train: L₁ = 32","Q = 3, L = 256, train: L₁ = 64","Q = 3, L = 64, train: L₁ = 32","Q = 3, L = 64, train: L₁ = 64","Q = 4, L = 128, train: L₁ = 32","Q = 4, L = 128, train: L₁ = 64","Q = 4, L = 64, train: L₁ = 32","Q = 4, L = 64, train: L₁ = 64"],"range":["circle","square","diamond","cross","triangle-right","triangle-left","triangle-down","triangle-up"]}}}}
]
}
